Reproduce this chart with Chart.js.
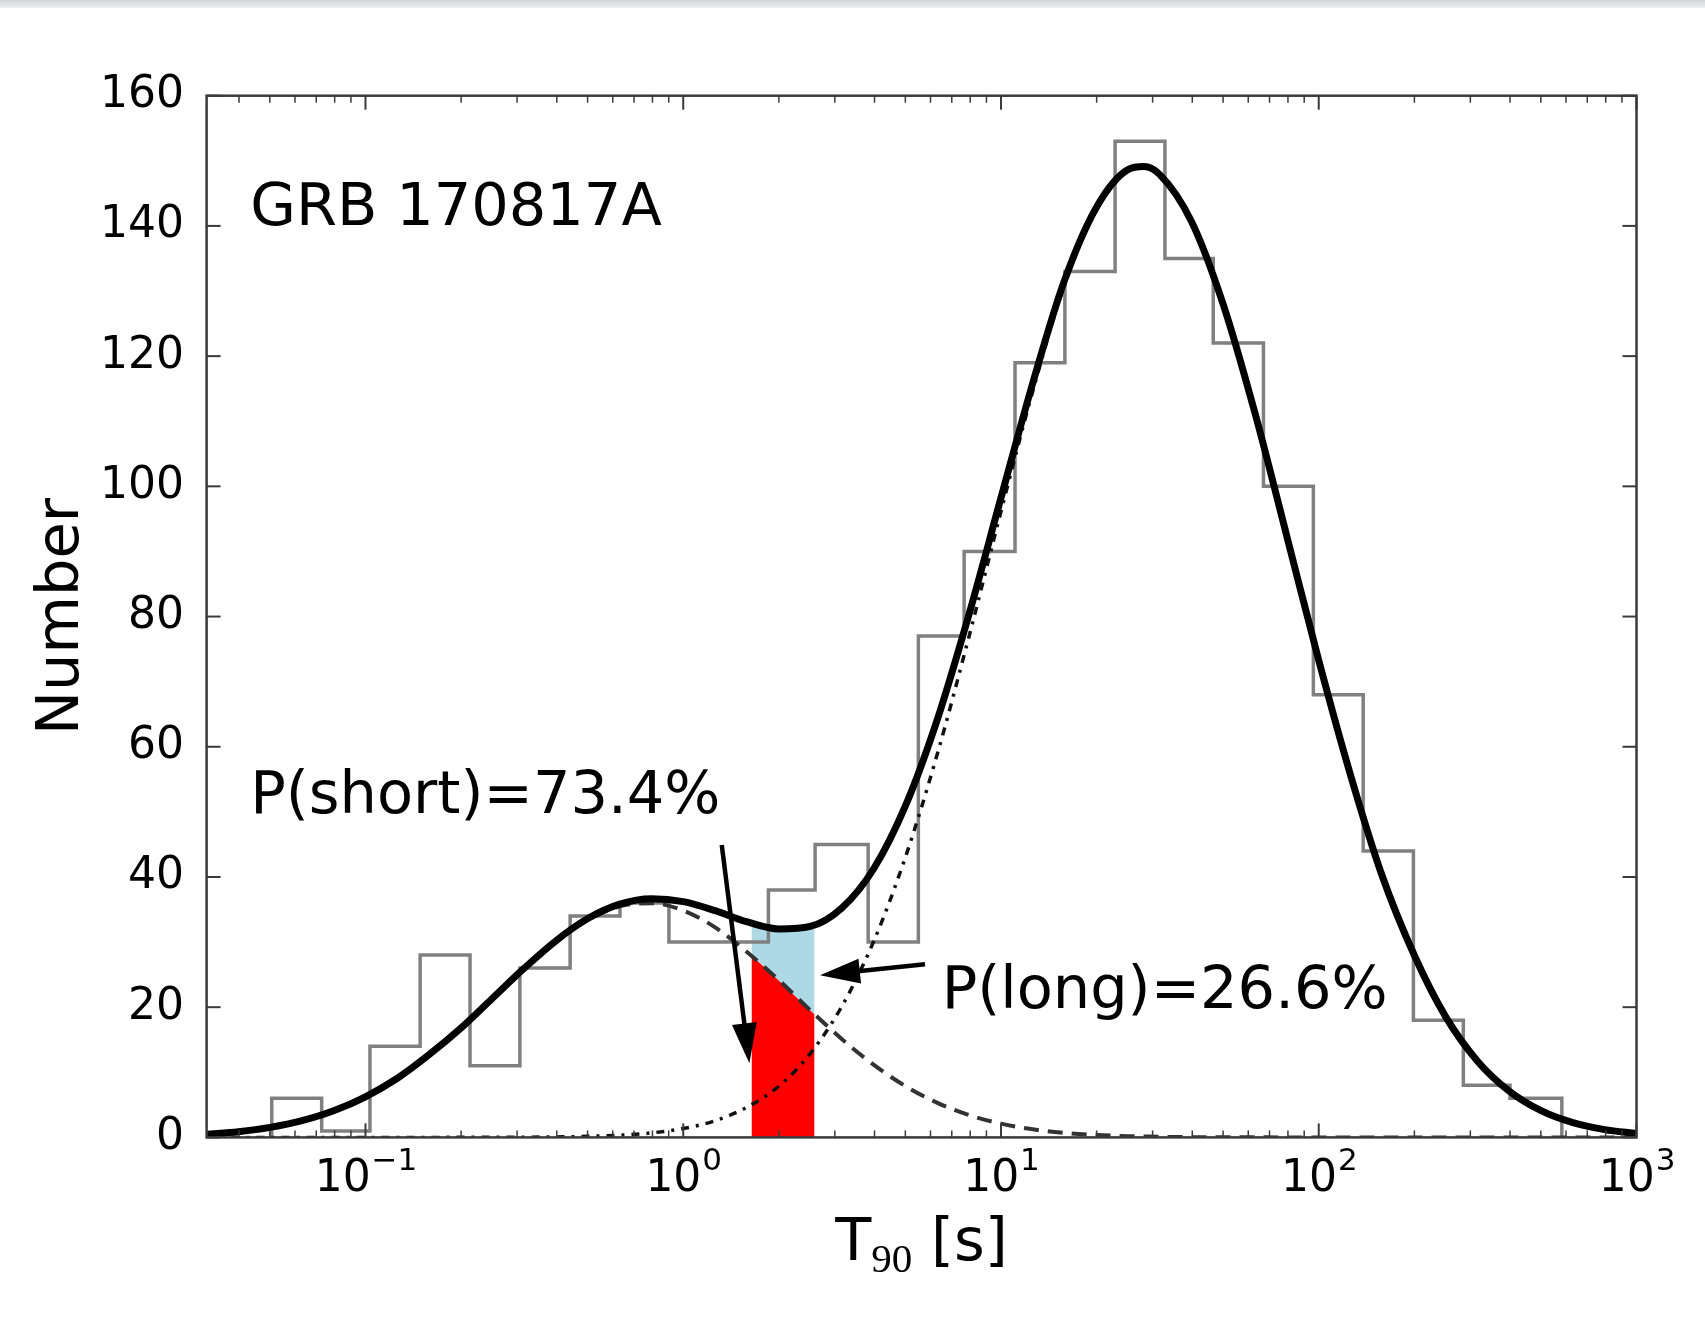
<!DOCTYPE html>
<html>
<head>
<meta charset="utf-8">
<script src="https://cdn.jsdelivr.net/npm/chart.js@4.4.1/dist/chart.umd.min.js"></script>
<style>
html,body{margin:0;padding:0;background:#fff;}
canvas{display:block;}
</style>
</head>
<body>
<canvas id="c" width="1705" height="1332"></canvas>
<script>
// ---------- data ----------
// histogram bin edges (T90 in seconds) and counts
const binEdges = [0.0507, 0.0728, 0.1033, 0.1486, 0.2133, 0.3062, 0.4406, 0.6324, 0.9016, 1.294,
  1.854, 2.600, 3.819, 5.495, 7.656, 11.07, 15.89, 22.86, 32.81, 46.56,
  66.99, 96.16, 138.0, 198.6, 285.1, 399.9, 582.1];
const counts = [6, 1, 14, 28, 11, 26, 34, 36, 30, 30, 38, 45, 30, 77, 90, 119, 133, 153, 135, 122, 100, 68, 44, 18, 8, 6];

// fitted curves sampled along T90 (seconds)
const fitT90 = [0.0316, 0.0398, 0.0501, 0.0631, 0.0794, 0.1, 0.126, 0.158, 0.2, 0.251,
  0.316, 0.398, 0.501, 0.631, 0.794, 1, 1.26, 1.58, 2.0, 2.51,
  3.16, 3.98, 5.01, 6.31, 7.94, 10, 12.6, 15.8, 20, 25.1,
  28.2, 31.6, 39.8, 50.1, 63.1, 79.4, 100, 126, 158, 200,
  251, 316, 398, 501, 631, 794, 1000];
const fitShort = [0.48, 0.88, 1.54, 2.57, 4.09, 6.24, 9.08, 12.64, 16.81, 21.37,
  25.96, 30.15, 33.45, 35.48, 35.97, 34.85, 32.26, 28.55, 24.15, 19.52,
  15.08, 11.13, 7.86, 5.30, 3.42, 2.11, 1.24, 0.70, 0.38, 0.19,
  0.14, 0.09, 0.04, 0.02, 0.01, 0, 0, 0, 0, 0,
  0, 0, 0, 0, 0, 0, 0];
const fitLong = [0, 0, 0, 0, 0, 0, 0, 0, 0.01, 0.01,
  0.03, 0.07, 0.16, 0.34, 0.69, 1.36, 2.56, 4.59, 7.86, 12.88,
  20.17, 30.17, 43.13, 58.96, 77.02, 96.13, 114.69, 130.78, 142.54, 148.46,
  148.97, 147.79, 140.61, 127.86, 111.12, 92.29, 73.26, 55.59, 40.30, 27.94,
  18.51, 11.71, 7.09, 4.10, 2.26, 1.20, 0.60];
const fitTotal = [0.48, 0.88, 1.54, 2.57, 4.09, 6.24, 9.08, 12.64, 16.82, 21.38,
  25.99, 30.22, 33.61, 35.82, 36.66, 36.21, 34.82, 33.14, 32.01, 32.40,
  35.25, 41.30, 50.99, 64.26, 80.44, 98.24, 115.93, 131.48, 142.92, 148.65,
  149.11, 147.88, 140.65, 127.88, 111.13, 92.29, 73.26, 55.59, 40.30, 27.94,
  18.51, 11.71, 7.09, 4.10, 2.26, 1.20, 0.60];

// shaded T90 range of GRB 170817A
const bandT90 = [1.64, 1.8, 2.0, 2.2, 2.4, 2.59];
const bandShort = [27.93, 26.17, 24.10, 22.19, 20.43, 18.91];
const bandTotal = [32.92, 32.39, 32.00, 31.94, 32.16, 32.62];

// tick labels
const yTicks = [0, 20, 40, 60, 80, 100, 120, 140, 160];
const xTickValues = [0.1, 1, 10, 100, 1000];
const xTickBase = ['10', '10', '10', '10', '10'];
const xTickExp = ['\u22121', '0', '1', '2', '3'];

// ---------- annotation layout (data coordinates) ----------
const notes = [
  {text: 'GRB 170817A', x: 0.04338, y: 140.1},
  {text: 'P(short)=73.4%', x: 0.04338, y: 49.8},
  {text: 'P(long)=26.6%', x: 6.507, y: 19.9}
];
const arrows = [
  {from: [1.322, 44.9], to: [1.615, 11.4]},
  {from: [5.766, 26.6], to: [2.694, 24.9]}
];

const FONT = "'DejaVu Sans', sans-serif";
Chart.defaults.font.family = FONT;
Chart.defaults.color = '#000';

const toXY = (xs, ys) => xs.map((x, i) => ({x: x, y: ys[i]}));
const histPoints = [{x: binEdges[0], y: 0}]
  .concat(counts.map((c, i) => ({x: binEdges[i], y: c})))
  .concat([{x: binEdges[binEdges.length - 1], y: 0}]);

function seg(ctx, x0, y0, x1, y1) {
  ctx.beginPath(); ctx.moveTo(x0, y0); ctx.lineTo(x1, y1); ctx.stroke();
}

const decor = {
  id: 'decor',
  beforeDraw(chart) {
    const ctx = chart.ctx;
    ctx.save();
    ctx.fillStyle = '#fff';
    ctx.fillRect(0, 0, chart.width, chart.height);
    const g = ctx.createLinearGradient(0, 0, 0, 8);
    g.addColorStop(0, '#d1d5da');
    g.addColorStop(1, '#eef0f2');
    ctx.fillStyle = g;
    ctx.fillRect(0, 0, chart.width, 8);
    ctx.restore();
  },
  afterDraw(chart) {
    const ctx = chart.ctx, a = chart.chartArea, xs = chart.scales.x, ys = chart.scales.y;
    ctx.save();
    // frame
    ctx.strokeStyle = '#3a3a3a';
    ctx.lineWidth = 2.5;
    ctx.strokeRect(a.left, a.top, a.right - a.left, a.bottom - a.top);
    // y ticks (inward, both sides)
    ctx.lineWidth = 2;
    yTicks.forEach(v => {
      const py = ys.getPixelForValue(v);
      seg(ctx, a.left, py, a.left + 14, py);
      seg(ctx, a.right, py, a.right - 14, py);
    });
    // x ticks (log, major + minor, bottom and top)
    for (let e = -2; e <= 3; e++) {
      for (let s = 1; s <= 9; s++) {
        const v = s * Math.pow(10, e);
        if (v < xs.min * 0.9999 || v > xs.max * 1.0001) continue;
        const px = xs.getPixelForValue(v);
        const L = s === 1 ? 14 : 7;
        ctx.lineWidth = s === 1 ? 2 : 1.5;
        seg(ctx, px, a.bottom, px, a.bottom - L);
        seg(ctx, px, a.top, px, a.top + L);
      }
    }
    // x tick labels 10^n
    ctx.fillStyle = '#000';
    ctx.textBaseline = 'alphabetic';
    ctx.textAlign = 'left';
    const base = a.bottom + 54;
    xTickValues.forEach((v, i) => {
      const px = xs.getPixelForValue(v);
      ctx.font = '44px ' + FONT;
      const w1 = ctx.measureText(xTickBase[i]).width;
      ctx.font = '31px ' + FONT;
      const w2 = ctx.measureText(xTickExp[i]).width;
      const x0 = px - (w1 + w2) / 2;
      ctx.font = '44px ' + FONT;
      ctx.fillText(xTickBase[i], x0, base);
      ctx.font = '31px ' + FONT;
      ctx.fillText(xTickExp[i], x0 + w1 + 1, base - 21);
    });
    // x axis title: T_90 [s]
    {
      const cx = (a.left + a.right) / 2;
      const tb = a.bottom + 123;
      ctx.font = '59px ' + FONT;
      const wT = ctx.measureText('T').width;
      const wS = ctx.measureText(' [s]').width;
      ctx.font = "41px 'Liberation Serif', serif";
      const w9 = ctx.measureText('90').width;
      let x0 = cx - (wT + w9 + wS) / 2;
      ctx.font = '59px ' + FONT;
      ctx.fillText('T', x0, tb);
      ctx.font = "41px 'Liberation Serif', serif";
      ctx.fillText('90', x0 + wT, tb + 12);
      ctx.font = '59px ' + FONT;
      ctx.fillText(' [s]', x0 + wT + w9, tb);
    }
    // annotations
    ctx.font = '59px ' + FONT;
    notes.forEach(n => {
      ctx.fillText(n.text, xs.getPixelForValue(n.x), ys.getPixelForValue(n.y));
    });
    // arrows
    ctx.strokeStyle = '#000';
    ctx.fillStyle = '#000';
    arrows.forEach(ar => {
      const x0 = xs.getPixelForValue(ar.from[0]), y0 = ys.getPixelForValue(ar.from[1]);
      const x1 = xs.getPixelForValue(ar.to[0]), y1 = ys.getPixelForValue(ar.to[1]);
      const ang = Math.atan2(y1 - y0, x1 - x0);
      const hl = 40, hw = 12.5;
      const bx = x1 - hl * Math.cos(ang), by = y1 - hl * Math.sin(ang);
      ctx.lineWidth = 4.5;
      seg(ctx, x0, y0, bx + 2 * Math.cos(ang), by + 2 * Math.sin(ang));
      ctx.beginPath();
      ctx.moveTo(x1, y1);
      ctx.lineTo(bx + hw * Math.sin(ang), by - hw * Math.cos(ang));
      ctx.lineTo(bx - hw * Math.sin(ang), by + hw * Math.cos(ang));
      ctx.closePath();
      ctx.fill();
    });
    ctx.restore();
  }
};

new Chart(document.getElementById('c'), {
  type: 'line',
  data: {
    datasets: [
      {
        label: 'short fraction', data: toXY(bandT90, bandShort),
        fill: 'origin', backgroundColor: '#ff0000', borderWidth: 0, pointRadius: 0, order: 10
      },
      {
        label: 'long fraction', data: toXY(bandT90, bandTotal),
        fill: 0, backgroundColor: '#add8e6', borderWidth: 0, pointRadius: 0, order: 9
      },
      {
        label: 'histogram', data: histPoints, stepped: 'before',
        borderColor: '#808080', borderWidth: 3.5, pointRadius: 0, fill: false,
        borderJoinStyle: 'miter', order: 8
      },
      {
        label: 'short component', data: toXY(fitT90, fitShort),
        borderColor: '#333', borderWidth: 4, borderDash: [15, 9], pointRadius: 0,
        fill: false, cubicInterpolationMode: 'monotone', order: 7
      },
      {
        label: 'long component', data: toXY(fitT90, fitLong),
        borderColor: '#111', borderWidth: 3.5, borderDash: [8, 7, 3, 7], pointRadius: 0,
        fill: false, cubicInterpolationMode: 'monotone', order: 6
      },
      {
        label: 'total fit', data: toXY(fitT90, fitTotal),
        borderColor: '#000', borderWidth: 7, pointRadius: 0,
        fill: false, cubicInterpolationMode: 'monotone', order: 5
      }
    ]
  },
  options: {
    responsive: false,
    animation: false,
    devicePixelRatio: 1,
    layout: {padding: {left: 0, right: 68.5, top: 95.7, bottom: 194.6}},
    plugins: {legend: {display: false}, tooltip: {enabled: false}},
    scales: {
      x: {type: 'logarithmic', min: 0.0316228, max: 1000, display: false},
      y: {
        type: 'linear', min: 0, max: 160,
        afterBuildTicks: s => { s.ticks = yTicks.map(v => ({value: v})); },
        ticks: {padding: 14.5, font: {size: 44}, color: '#000'},
        grid: {display: false},
        border: {display: false},
        title: {display: true, text: 'Number', color: '#000', font: {size: 59}, padding: {top: 27, bottom: 0}},
        afterFit: s => { s.width = 206.6; }
      }
    }
  },
  plugins: [decor]
});
</script>
</body>
</html>
